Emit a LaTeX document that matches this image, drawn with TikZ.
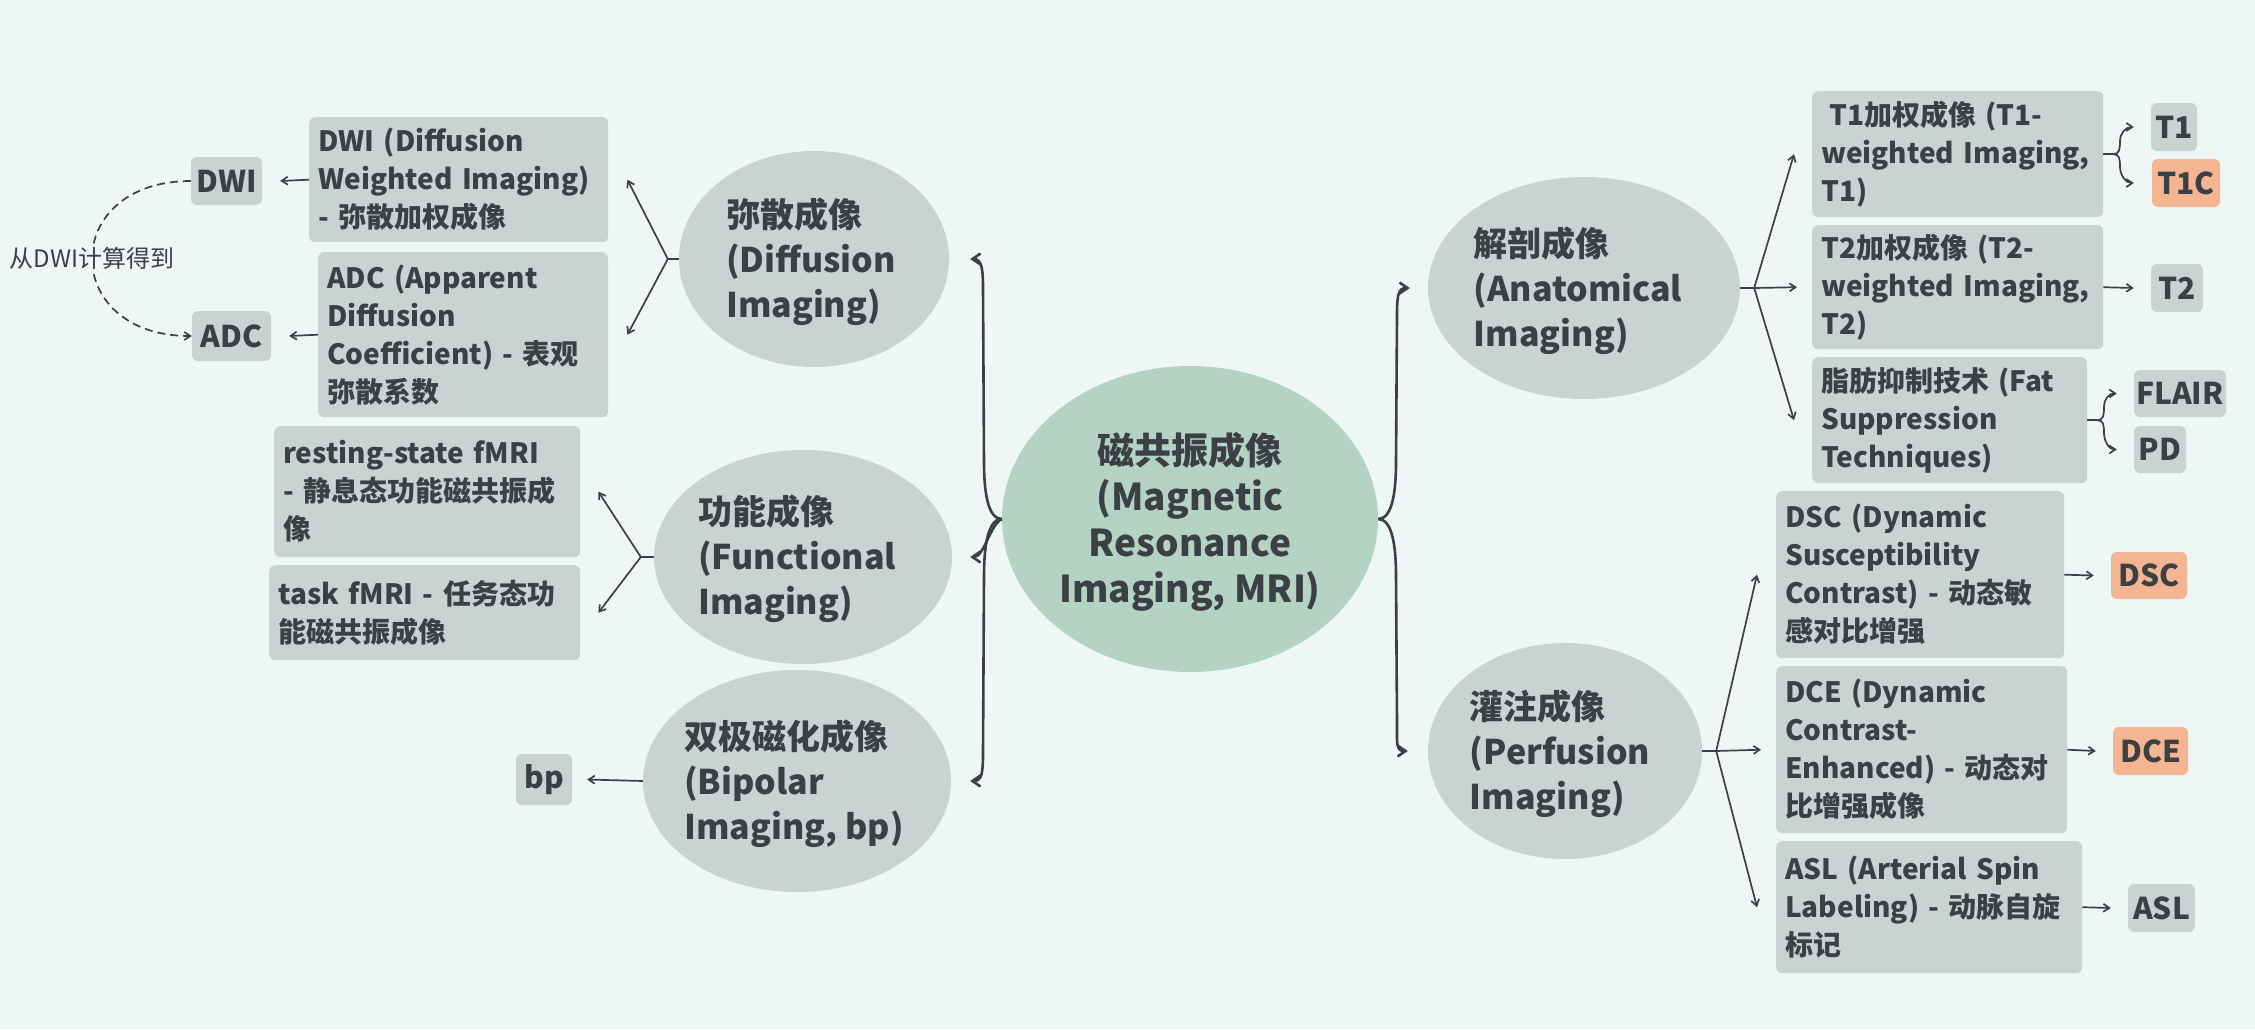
\documentclass[tikz,border=0pt]{standalone}
\usepackage{fontspec}
\setmainfont{Noto Sans CJK SC}
\usetikzlibrary{shapes.geometric,arrows.meta,calc}
\definecolor{bgc}{HTML}{EEF7F5}
\definecolor{boxc}{HTML}{CAD2D2}
\definecolor{rootc}{HTML}{B5D3C5}
\definecolor{orc}{HTML}{F4B692}
\definecolor{ink}{HTML}{3B4044}
\begin{document}
\begin{tikzpicture}[x=1pt,y=-1pt,
  every node/.style={text=ink},
  lbox/.style={fill=boxc, rounded corners=6pt, anchor=north west, inner xsep=9pt, inner ysep=0pt, align=left, font=\fontsize{28}{38}\selectfont\bfseries},
  sbox/.style={fill=boxc, rounded corners=6pt, inner sep=0pt, font=\fontsize{30}{36}\selectfont\bfseries},
  obox/.style={sbox, fill=orc},
  blob/.style={ellipse, fill=boxc, inner sep=0pt},
  btxt/.style={align=left, inner sep=0pt, font=\fontsize{34}{45}\selectfont\bfseries},
  rtxt/.style={align=center, inner sep=0pt, font=\fontsize{37}{46}\selectfont\bfseries},
  lbl/.style={fill=bgc, inner xsep=2pt, inner ysep=3pt, font=\fontsize{24}{28}\selectfont},
  brace/.style={draw=ink, line width=2.6pt, -{Straight Barb[length=8pt,width=11pt]}},
  fork/.style={draw=ink, line width=1.7pt},
  arr/.style={draw=ink, line width=1.7pt, -{Straight Barb[length=6pt,width=8pt]}},
]
\fill[bgc] (0,0) rectangle (2255,1029);

% central and level-1 ellipses
\node[ellipse, fill=rootc, inner sep=0pt, minimum width=376pt, minimum height=306pt] (root) at (1190,519) {};
\node[rtxt] (rootT) at ($(root.center)+(0,3)$) {磁共振成像\\(Magnetic\\Resonance\\Imaging, MRI)};

\node[blob, minimum width=270pt, minimum height=216pt] (diff) at (814,259) {};
\node[btxt] (diffT) at ($(diff.center)+(-3,3)$) {弥散成像\\(Diffusion\\Imaging)};
\node[blob, minimum width=298pt, minimum height=214pt] (func) at (803,557) {};
\node[btxt] (funcT) at ($(func.center)+(-6,2)$) {功能成像\\(Functional\\Imaging)};
\node[blob, minimum width=308pt, minimum height=222pt] (bip) at (797,781) {};
\node[btxt] (bipT) at ($(bip.center)+(-3,3)$) {双极磁化成像\\(Bipolar\\Imaging, bp)};
\node[blob, minimum width=312pt, minimum height=222pt] (anat) at (1584,288) {};
\node[btxt] (anatT) at ($(anat.center)+(-6,3)$) {解剖成像\\(Anatomical\\Imaging)};
\node[blob, minimum width=274pt, minimum height=216pt] (perf) at (1565,751) {};
\node[btxt] (perfT) at ($(perf.center)+(-5,3)$) {灌注成像\\(Perfusion\\Imaging)};

% long boxes
\node[lbox, text width=281pt, minimum height=125pt] (dwiL) at (309,117) {DWI (Diffusion\\Weighted Imaging)\\- 弥散加权成像};
\node[lbox, text width=272pt, minimum height=165pt] (adcL) at (318,252) {ADC (Apparent\\Diffusion\\Coefficient) - 表观\\弥散系数};
\node[lbox, text width=288pt, minimum height=131pt] (restL) at (274,426) {resting-state fMRI\\- 静息态功能磁共振成\\像};
\node[lbox, text width=293pt, minimum height=95pt] (taskL) at (269,565) {task fMRI - 任务态功\\能磁共振成像};
\node[lbox, text width=273pt, minimum height=126pt] (t1L) at (1812,91) {\hspace*{8pt}T1加权成像 (T1-\\weighted Imaging,\\T1)};
\node[lbox, text width=273pt, minimum height=124pt] (t2L) at (1812,225) {T2加权成像 (T2-\\weighted Imaging,\\T2)};
\node[lbox, text width=257pt, minimum height=126pt] (fatL) at (1812,357) {脂肪抑制技术 (Fat\\Suppression\\Techniques)};
\node[lbox, text width=270pt, minimum height=167pt] (dscL) at (1776,491) {DSC (Dynamic\\Susceptibility\\Contrast) - 动态敏\\感对比增强};
\node[lbox, text width=273pt, minimum height=167pt] (dceL) at (1776,666) {DCE (Dynamic\\Contrast-\\Enhanced) - 动态对\\比增强成像};
\node[lbox, text width=288pt, minimum height=132pt] (aslL) at (1776,841) {ASL (Arterial Spin\\Labeling) - 动脉自旋\\标记};

% small boxes
\node[sbox, minimum width=71pt, minimum height=48pt] (dwiS) at (226.5,181) {DWI};
\node[sbox, minimum width=79pt, minimum height=50pt] (adcS) at (231.5,336) {ADC};
\node[sbox, minimum width=56pt, minimum height=51pt] (bpS) at (544,779.5) {bp};
\node[sbox, minimum width=46pt, minimum height=48pt] (t1S) at (2174,127) {T1};
\node[obox, minimum width=68pt, minimum height=48pt] (t1cS) at (2186,183) {T1C};
\node[sbox, minimum width=52pt, minimum height=48pt] (t2S) at (2177,288) {T2};
\node[sbox, minimum width=92pt, minimum height=47pt] (flS) at (2180,393.5) {FLAIR};
\node[sbox, minimum width=52pt, minimum height=47pt] (pdS) at (2160,449.5) {PD};
\node[obox, minimum width=76pt, minimum height=47pt] (dscS) at (2149,575.5) {DSC};
\node[obox, minimum width=75pt, minimum height=48pt] (dceS) at (2150.5,751) {DCE};
\node[sbox, minimum width=67pt, minimum height=48pt] (aslS) at (2161.5,908) {ASL};

% brace tips
\coordinate (dTip) at ($(diff.east)+(21,0)$);
\coordinate (fTip) at ($(func.east)+(18,0)$);
\coordinate (bTip) at ($(bip.east)+(19,0)$);
\coordinate (aTip) at ($(anat.west)+(-18,0)$);
\coordinate (pTip) at ($(perf.west)+(-20,0)$);

% root braces
\draw[brace] (root.west) .. controls +(-14,0) and +(0,30) .. (984,462) -- (983,290) .. controls +(0,-20) and +(12,0) .. (dTip);
\draw[brace] (root.west) .. controls +(-12,6) and +(14,0) .. (fTip);
\draw[brace] (root.west) .. controls +(-14,0) and +(0,-30) .. (984,576) -- (983,752) .. controls +(0,20) and +(12,0) .. (bTip);
\draw[brace] (root.east) .. controls +(14,0) and +(0,30) .. (1396,462) -- (1397,316) .. controls +(0,-20) and +(-12,0) .. (aTip);
\draw[brace] (root.east) .. controls +(14,0) and +(0,-30) .. (1396,576) -- (1397,723) .. controls +(0,20) and +(-12,0) .. (pTip);

% diffusion fork
\coordinate (dF) at ($(diff.west)+(-11,0)$);
\draw[fork] (diff.west) -- (dF);
\draw[arr] (dF) -- ($(dwiL.east)+(19,0)$);
\draw[arr] (dF) -- ($(adcL.east)+(19,0)$);
\draw[arr] (dwiL.west) -- ($(dwiS.east)+(18,0)$);
\draw[arr] (adcL.west) -- ($(adcS.east)+(18,0)$);
\draw[arr, dash pattern=on 8pt off 5pt] (dwiS.west) .. controls +(-132,0) and +(-132,0) .. (adcS.west);
\node[lbl] (calcL) at (92,258) {从DWI计算得到};

% functional fork
\coordinate (fF) at ($(func.west)+(-13,0)$);
\draw[fork] (func.west) -- (fF);
\draw[arr] (fF) -- ($(restL.east)+(18,0)$);
\draw[arr] (fF) -- ($(taskL.east)+(18,0)$);

% bipolar
\draw[arr] (bip.west) -- ($(bpS.east)+(15,0)$);

% anatomical fork
\coordinate (aF) at ($(anat.east)+(14,0)$);
\draw[fork] (anat.east) -- (aF);
\draw[arr] (aF) -- ($(t1L.west)+(-18,0)$);
\draw[arr] (aF) -- ($(t2L.west)+(-15,0)$);
\draw[arr] (aF) -- ($(fatL.west)+(-18,0)$);

% T1 brace
\coordinate (t1F) at ($(t1L.east)+(10,0)$);
\coordinate (t1Tip) at ($(t1S.west)+(-17,0)$);
\coordinate (t1cTip) at ($(t1cS.west)+(-18,0)$);
\draw[fork] (t1L.east) -- (t1F);
\draw[arr] (t1F) .. controls +(6,0) and +(0,8) .. (2120,141) .. controls +(0,-8) and +(-8,0) .. (t1Tip);
\draw[arr] (t1F) .. controls +(6,0) and +(0,-8) .. (2120,167) .. controls +(0,8) and +(-8,0) .. (t1cTip);
\draw[arr] (t2L.east) -- ($(t2S.west)+(-17,0)$);

% fat brace
\coordinate (fatF) at ($(fatL.east)+(10,0)$);
\coordinate (flTip) at ($(flS.west)+(-17,0)$);
\coordinate (pdTip) at ($(pdS.west)+(-17,0)$);
\draw[fork] (fatL.east) -- (fatF);
\draw[arr] (fatF) .. controls +(6,0) and +(0,8) .. (2104,407) .. controls +(0,-8) and +(-8,0) .. (flTip);
\draw[arr] (fatF) .. controls +(6,0) and +(0,-8) .. (2104,433) .. controls +(0,8) and +(-8,0) .. (pdTip);

% perfusion fork
\coordinate (pF) at ($(perf.east)+(14,0)$);
\draw[fork] (perf.east) -- (pF);
\draw[arr] (pF) -- ($(dscL.west)+(-19,0)$);
\draw[arr] (pF) -- ($(dceL.west)+(-15,0)$);
\draw[arr] (pF) -- ($(aslL.west)+(-19,0)$);
\draw[arr] (dscL.east) -- ($(dscS.west)+(-17,0)$);
\draw[arr] (dceL.east) -- ($(dceS.west)+(-17,0)$);
\draw[arr] (aslL.east) -- ($(aslS.west)+(-17,0)$);
\end{tikzpicture}
\end{document}
